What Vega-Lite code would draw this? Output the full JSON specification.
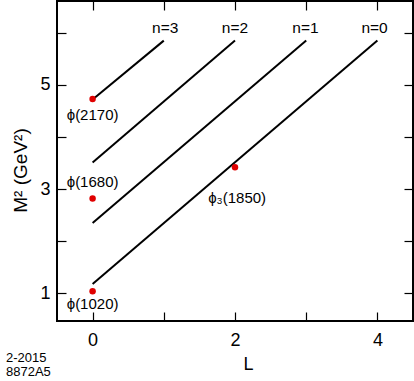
{
  "$schema": "https://vega.github.io/schema/vega-lite/v6.json",
  "width": 356,
  "height": 320,
  "autosize": {"type": "none"},
  "padding": {"left": 57, "top": 1, "right": 1, "bottom": 60},
  "background": "white",
  "config": {
    "view": {"stroke": "black", "strokeWidth": 2},
    "font": "Liberation Sans",
    "axis": {"domain": false, "grid": false, "tickColor": "black", "tickWidth": 1.2, "labelColor": "black", "titleColor": "black", "labelFont": "Liberation Sans", "titleFont": "Liberation Sans", "titleFontWeight": "normal"}
  },
  "datasets": {
    "lines": [
      {"n": "n=0", "L": 0, "M2": 1.18},
      {"n": "n=0", "L": 4, "M2": 5.85},
      {"n": "n=1", "L": 0, "M2": 2.35},
      {"n": "n=1", "L": 3, "M2": 5.85},
      {"n": "n=2", "L": 0, "M2": 3.51},
      {"n": "n=2", "L": 2, "M2": 5.85},
      {"n": "n=3", "L": 0, "M2": 4.72},
      {"n": "n=3", "L": 1, "M2": 5.85}
    ],
    "states": [
      {"name": "ϕ(1020)", "L": 0, "M2": 1.04, "labelL": 0, "labelM2": 0.79},
      {"name": "ϕ(1680)", "L": 0, "M2": 2.82, "labelL": 0, "labelM2": 3.14},
      {"name": "ϕ(2170)", "L": 0, "M2": 4.73, "labelL": 0, "labelM2": 4.42},
      {"name": "ϕ₃(1850)", "L": 2, "M2": 3.42, "labelL": 2.03, "labelM2": 2.83}
    ],
    "nlabels": [
      {"n": "n=3", "L": 1.02, "M2": 6.09},
      {"n": "n=2", "L": 2.0, "M2": 6.09},
      {"n": "n=1", "L": 2.99, "M2": 6.09},
      {"n": "n=0", "L": 3.96, "M2": 6.09}
    ]
  },
  "title": {
    "text": ["2-2015", "8872A5"],
    "orient": "bottom",
    "anchor": "start",
    "frame": "group",
    "dx": -51,
    "dy": -25,
    "fontSize": 13,
    "lineHeight": 14,
    "fontWeight": "normal",
    "font": "Liberation Sans",
    "color": "black"
  },
  "resolve": {"axis": {"x": "independent", "y": "independent"}},
  "layer": [
    {
      "data": {"name": "lines"},
      "mark": {"type": "line", "color": "black", "strokeWidth": 2},
      "encoding": {
        "x": {"field": "L", "type": "quantitative", "scale": {"domain": [-0.5, 4.5], "nice": false, "zero": false},
          "axis": {"orient": "bottom", "values": [0, 1, 2, 3, 4], "labelExpr": "datum.value % 2 == 0 ? datum.label : ''", "tickSize": -9, "labelPadding": 19, "labelFontSize": 18, "title": "L", "titleFontSize": 18, "titleX": 191, "titleY": 43, "titleBaseline": "middle", "titleAlign": "center"}},
        "y": {"field": "M2", "type": "quantitative", "scale": {"domain": [0.47, 6.61], "nice": false, "zero": false},
          "axis": {"orient": "left", "values": [1, 2, 3, 4, 5, 6], "labelExpr": "datum.value % 2 == 1 ? datum.label : ''", "tickSize": -9, "labelPadding": 16, "labelFontSize": 18, "title": "M² (GeV²)", "titleFontSize": 19, "titleX": -37, "titleY": 169, "titleBaseline": "middle", "titleAlign": "center", "titleAngle": -90}},
        "detail": {"field": "n"}
      }
    },
    {
      "data": {"name": "states"},
      "mark": {"type": "circle", "color": "#e00000", "opacity": 1, "size": 42},
      "encoding": {
        "x": {"field": "L", "type": "quantitative", "axis": {"orient": "top", "values": [0, 1, 2, 3, 4], "labels": false, "tickSize": -9, "title": null}},
        "y": {"field": "M2", "type": "quantitative", "axis": {"orient": "right", "values": [1, 2, 3, 4, 5, 6], "labels": false, "tickSize": -9, "title": null}}
      }
    },
    {
      "data": {"name": "states"},
      "mark": {"type": "text", "fontSize": 15, "font": "Liberation Sans", "color": "black", "align": "center", "baseline": "middle"},
      "encoding": {
        "x": {"field": "labelL", "type": "quantitative", "axis": null},
        "y": {"field": "labelM2", "type": "quantitative", "axis": null},
        "text": {"field": "name"}
      }
    },
    {
      "data": {"name": "nlabels"},
      "mark": {"type": "text", "fontSize": 15.5, "font": "Liberation Sans", "color": "black", "align": "center", "baseline": "middle"},
      "encoding": {
        "x": {"field": "L", "type": "quantitative", "axis": null},
        "y": {"field": "M2", "type": "quantitative", "axis": null},
        "text": {"field": "n"}
      }
    }
  ]
}
